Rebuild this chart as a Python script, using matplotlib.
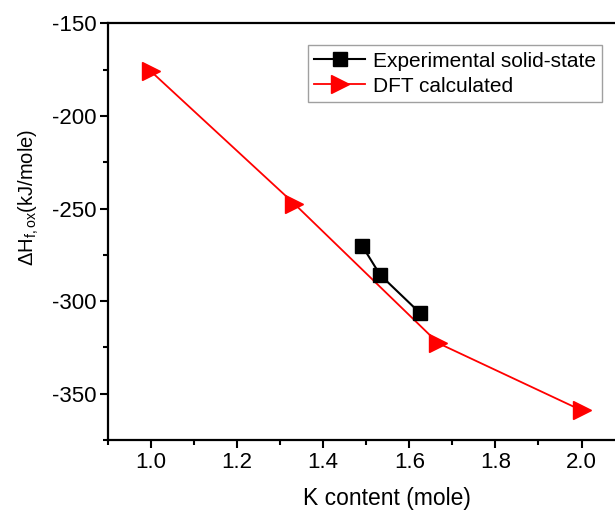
import matplotlib
matplotlib.use("Agg")
import matplotlib.pyplot as plt
from matplotlib.ticker import MultipleLocator

plt.rcParams['font.family'] = ['Liberation Sans', 'DejaVu Sans']
plt.rcParams['mathtext.fontset'] = 'custom'
plt.rcParams['mathtext.rm'] = 'Liberation Sans'
plt.rcParams['mathtext.it'] = 'Liberation Sans:italic'

# Data
exp_x = [1.49, 1.532, 1.625]
exp_y = [-270.0, -285.8, -306.5]
dft_x = [1.0, 1.333, 1.667, 2.0]
dft_y = [-176.0, -247.5, -322.7, -359.0]
x_ticks = [1.0, 1.2, 1.4, 1.6, 1.8, 2.0]
x_tick_labels = ['1.0', '1.2', '1.4', '1.6', '1.8', '2.0']
y_ticks = [-350, -300, -250, -200, -150]
y_tick_labels = ['-350', '-300', '-250', '-200', '-150']

fig = plt.figure(figsize=(6.15, 5.12), dpi=100)
ax = fig.add_axes([0.1756, 0.1406, 0.8400, 0.8139])

ax.plot(exp_x, exp_y, color='black', lw=1.5, marker='s', markersize=10.5,
        label='Experimental solid-state', zorder=3)
ax.plot(dft_x, dft_y, color='red', lw=1.3, marker='>', markersize=13,
        label='DFT calculated', zorder=2)

ax.set_xlim(0.9, 2.1)
ax.set_ylim(-375, -150)
ax.xaxis.set_minor_locator(MultipleLocator(0.1))
ax.yaxis.set_minor_locator(MultipleLocator(25))
ax.set_xticks(x_ticks)
ax.set_xticklabels(x_tick_labels)
ax.set_yticks(y_ticks)
ax.set_yticklabels(y_tick_labels)

for s in ax.spines.values():
    s.set_linewidth(1.6)
ax.tick_params(which='major', direction='out', length=6, width=1.5, labelsize=16, pad=2.5)
ax.tick_params(which='minor', direction='out', length=3.5, width=1.5)

ax.set_xlabel('K content (mole)', fontsize=16.5, labelpad=10)
ax.xaxis.label.set_x(0.54)
ax.set_ylabel(r'$\Delta$H$_{\mathregular{f,ox}}$(kJ/mole)', fontsize=14.5)
ax.yaxis.set_label_coords(-0.153, 0.583)
ax.yaxis.label.set_va('center')

leg = ax.legend(loc='upper left', bbox_to_anchor=(0.387, 0.947), fontsize=15,
                frameon=True, fancybox=False, edgecolor='#888888',
                handlelength=2.45, handletextpad=0.35, borderpad=0.3,
                labelspacing=0.29, borderaxespad=0)
leg.get_frame().set_linewidth(1.0)

fig.savefig('out.png', dpi=100)
